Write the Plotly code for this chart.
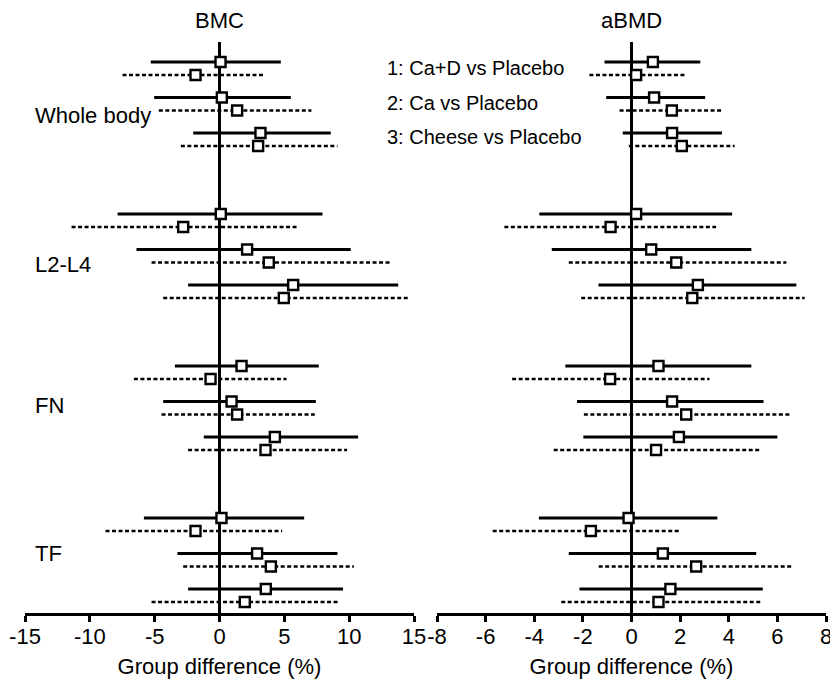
import plotly.graph_objects as go

# ---------------- data ----------------
sites = ["Whole body", "L2-L4", "FN", "TF"]
comparisons = ["1: Ca+D vs Placebo", "2: Ca vs Placebo", "3: Cheese vs Placebo"]
bmc_ticks = [-15, -10, -5, 0, 5, 10, 15]
bmc_tick_labels = ["-15", "-10", "-5", "0", "5", "10", "15"]
abmd_ticks = [-8, -6, -4, -2, 0, 2, 4, 6, 8]
abmd_tick_labels = ["-8", "-6", "-4", "-2", "0", "2", "4", "6", "8"]

# order: site-major, comparison-minor (WB:1,2,3, L2-L4:1,2,3, FN..., TF...)
bmc_solid_est = [0.08, 0.18, 3.16, 0.10, 2.13, 5.68, 1.70, 0.93, 4.27, 0.15, 2.90, 3.57]
bmc_solid_lo = [-5.30, -5.04, -2.03, -7.86, -6.40, -2.42, -3.44, -4.34, -1.21, -5.83, -3.24, -2.42]
bmc_solid_hi = [4.73, 5.50, 8.58, 7.94, 10.12, 13.78, 7.66, 7.43, 10.69, 6.53, 9.10, 9.53]

bmc_dot_est = [-1.85, 1.36, 2.98, -2.80, 3.80, 4.96, -0.69, 1.36, 3.55, -1.85, 3.96, 1.95]
bmc_dot_lo = [-7.48, -4.68, -2.98, -11.41, -5.24, -4.34, -6.60, -4.47, -2.42, -8.79, -2.80, -5.24]
bmc_dot_hi = [3.42, 7.09, 9.10, 6.01, 13.13, 14.55, 5.17, 7.35, 9.84, 4.83, 10.36, 9.15]

abmd_solid_est = [0.88, 0.93, 1.67, 0.19, 0.81, 2.73, 1.11, 1.67, 1.95, -0.12, 1.29, 1.60]
abmd_solid_lo = [-1.11, -1.04, -0.36, -3.79, -3.28, -1.36, -2.72, -2.24, -1.98, -3.81, -2.58, -2.14]
abmd_solid_hi = [2.83, 3.03, 3.72, 4.14, 4.93, 6.78, 4.93, 5.43, 6.00, 3.53, 5.13, 5.40]

abmd_dot_est = [0.19, 1.66, 2.07, -0.86, 1.84, 2.50, -0.88, 2.25, 1.01, -1.67, 2.66, 1.11]
abmd_dot_lo = [-1.73, -0.49, -0.11, -5.23, -2.58, -2.07, -4.91, -1.96, -3.20, -5.71, -1.35, -2.89]
abmd_dot_hi = [2.21, 3.69, 4.24, 3.48, 6.37, 7.12, 3.21, 6.50, 5.30, 1.98, 6.67, 5.30]

# ---------------- layout helpers ----------------
W, H = 830, 679
ML, MR, MT, MB = 25, 4, 42, 66
PW = W - ML - MR
PH = H - MT - MB
GROUP_STEP = 152.0
COMP_STEP = 35.5
DOT_OFFSET = 13.0
label_offsets = [53, 50, 39, 35]


def ypos(dotted):
    out = []
    for s in range(len(sites)):
        for c in range(len(comparisons)):
            out.append(s * GROUP_STEP + c * COMP_STEP + (DOT_OFFSET if dotted else 0.0))
    return out


def segs(lo, hi, ys):
    xs, yy = [], []
    for a, b, y in zip(lo, hi, ys):
        xs += [a, b, None]
        yy += [y, y, None]
    return xs, yy


FONT = "Liberation Sans, Arial, Helvetica, sans-serif"
fig = go.Figure()

panels = [
    ("x", "y", (bmc_solid_est, bmc_solid_lo, bmc_solid_hi), (bmc_dot_est, bmc_dot_lo, bmc_dot_hi)),
    ("x2", "y2", (abmd_solid_est, abmd_solid_lo, abmd_solid_hi), (abmd_dot_est, abmd_dot_lo, abmd_dot_hi)),
]

for xa, ya, solid, dot in panels:
    for (est, lo, hi), dotted in ((solid, False), (dot, True)):
        ys = ypos(dotted)
        xs, yy = segs(lo, hi, ys)
        fig.add_trace(go.Scatter(
            x=xs, y=yy, mode="lines", xaxis=xa, yaxis=ya, showlegend=False,
            line=dict(color="black", width=2.5 if dotted else 3,
                      dash="4px,2.5px" if dotted else "solid"),
            hoverinfo="skip"))
        fig.add_trace(go.Scatter(
            x=est, y=ys, mode="markers", xaxis=xa, yaxis=ya, showlegend=False,
            marker=dict(symbol="square", size=10, color="white",
                        line=dict(color="black", width=2.4))))

yr = [551, -20]
axis_common = dict(showgrid=False, zeroline=True, zerolinecolor="black", zerolinewidth=3,
                   showline=True, linecolor="black", linewidth=3, ticks="outside",
                   ticklen=6, tickwidth=3, tickcolor="black", ticklabelstandoff=-4,
                   ticklabeloverflow="allow",
                   tickfont=dict(family=FONT, size=22, color="black"),
                   title=dict(text="Group difference (%)", font=dict(family=FONT, size=22, color="black"),
                              standoff=12))

fig.update_layout(
    width=W, height=H,
    margin=dict(l=ML, r=MR, t=MT, b=MB, autoexpand=False),
    paper_bgcolor="white", plot_bgcolor="white",
    font=dict(family=FONT, color="black"),
    xaxis=dict(domain=[0, (414 - ML) / PW], range=[-15, 15], tickvals=bmc_ticks,
               ticktext=bmc_tick_labels, **axis_common),
    xaxis2=dict(domain=[(437 - ML) / PW, 1], range=[-8, 8], tickvals=abmd_ticks,
                ticktext=abmd_tick_labels, **axis_common),
    yaxis=dict(range=yr, visible=False, anchor="x"),
    yaxis2=dict(range=yr, visible=False, anchor="x2", matches="y"),
)

ann = []
for i, s in enumerate(sites):
    ann.append(dict(text=s, xref="paper", yref="y", x=(33 - ML) / PW, y=i * GROUP_STEP + label_offsets[i],
                    xanchor="left", yanchor="middle", showarrow=False,
                    font=dict(family=FONT, size=22, color="black")))
for i, c in enumerate(comparisons):
    ann.append(dict(text=c, xref="paper", yref="y", x=(385 - ML) / PW, y=6 + i * 34.5,
                    xanchor="left", yanchor="middle", showarrow=False,
                    font=dict(family=FONT, size=20, color="black")))
for xa, t in (("x", "BMC"), ("x2", "aBMD")):
    ann.append(dict(text=t, xref=xa, yref="paper", x=0, y=1 + (MT - 20) / PH,
                    xanchor="center", yanchor="middle", showarrow=False,
                    font=dict(family=FONT, size=22, color="black")))
fig.update_layout(annotations=ann)

fig.write_html("out.html", config={"displayModeBar": False},
               post_script="document.body.style.margin='0';document.body.style.padding='0';")
